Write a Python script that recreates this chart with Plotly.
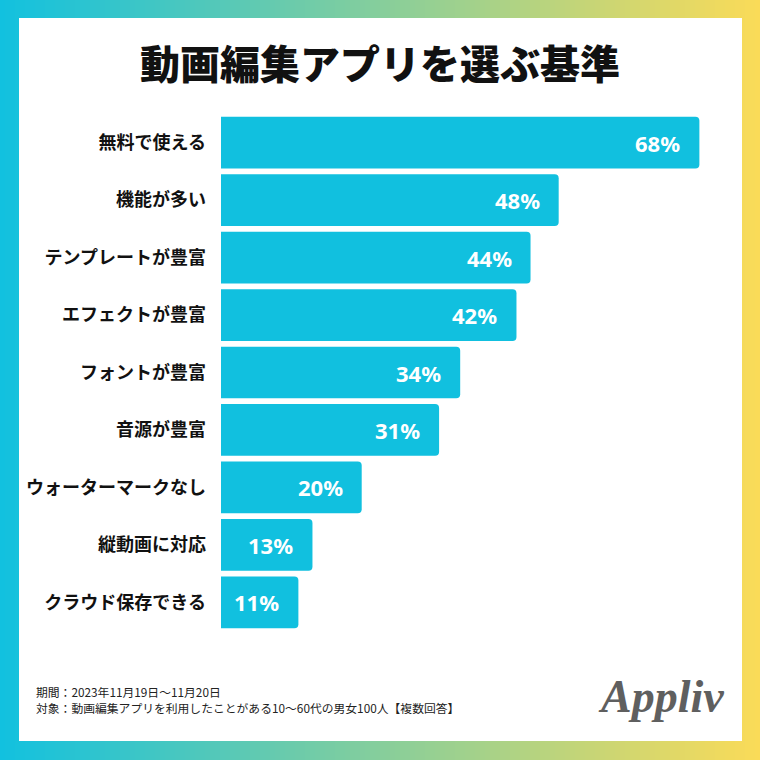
import plotly.graph_objects as go

# ---- data ----
categories = ["無料で使える", "機能が多い", "テンプレートが豊富", "エフェクトが豊富",
              "フォントが豊富", "音源が豊富", "ウォーターマークなし", "縦動画に対応",
              "クラウド保存できる"]
values = [68, 48, 44, 42, 34, 31, 20, 13, 11]
value_labels = [f"{v}%" for v in values]

title_text = "動画編集アプリを選ぶ基準"
footer_lines = ["期間：2023年11月19日〜11月20日",
                "対象：動画編集アプリを利用したことがある10〜60代の男女100人【複数回答】"]
brand = "Appliv"

W = H = 760
BAR_COLOR = "#11C0DF"
JP = "Noto Sans CJK JP"

fig = go.Figure()
fig.add_trace(go.Bar(
    x=values, y=categories, orientation="h",
    marker=dict(color=BAR_COLOR, line=dict(width=0)),
    hoverinfo="skip",
))

# gradient border (decoration)
shapes = []
c0 = (18, 193, 223)
c1 = (250, 219, 88)
n = 152
for i in range(n):
    t = i / (n - 1)
    col = tuple(round(c0[k] + (c1[k] - c0[k]) * t) for k in range(3))
    shapes.append(dict(type="rect", xref="paper", yref="paper",
                       x0=i / n, x1=(i + 1) / n + 0.001, y0=0, y1=1,
                       fillcolor="rgb(%d,%d,%d)" % col, line=dict(width=0),
                       layer="below"))
shapes.append(dict(type="rect", xref="paper", yref="paper",
                   x0=19 / W, x1=742 / W, y0=1 - 741 / H, y1=1 - 18 / H,
                   fillcolor="white", line=dict(width=0), layer="below"))

annotations = []
for c, v, lab in zip(categories, values, value_labels):
    annotations.append(dict(x=v, y=c, xref="x", yref="y", text=lab,
                            showarrow=False, xanchor="right", xshift=-17,
                            font=dict(family="Noto Sans", size=22, color="white",
                                      weight="bold")))

annotations.append(dict(x=0.5, y=1 - 62 / H, xref="paper", yref="paper",
                        text=title_text, showarrow=False, xanchor="center",
                        yanchor="middle",
                        font=dict(family=JP, size=40, color="#111111", weight=900)))
for i, line in enumerate(footer_lines):
    annotations.append(dict(x=34 / W, y=1 - (691 + 16 * i) / H, xref="paper",
                            yref="paper", text=line, showarrow=False,
                            xanchor="left", yanchor="middle",
                            font=dict(family=JP, size=11.8, color="#222222")))
annotations.append(dict(x=661 / W, y=1 - 696 / H, xref="paper", yref="paper",
                        text="<i><b>" + brand + "</b></i>", showarrow=False,
                        xanchor="center", yanchor="middle",
                        font=dict(family="Liberation Serif", size=46,
                                  color="#5f5f5f")))

fig.update_layout(
    width=W, height=H,
    margin=dict(l=0, r=0, t=0, b=0),
    paper_bgcolor="white", plot_bgcolor="rgba(0,0,0,0)",
    showlegend=False,
    bargap=0.1,
    barcornerradius=4,
    shapes=shapes,
    annotations=annotations,
    xaxis=dict(domain=[221 / W, 1], range=[0, 539 / 7.035], visible=False,
               fixedrange=True),
    yaxis=dict(domain=[1 - 631 / H, 1 - 114 / H], autorange="reversed",
               showgrid=False, zeroline=False, showline=False, ticks="",
               ticklabelstandoff=14,
               tickfont=dict(family=JP, size=18, color="#111111", weight="bold")),
)

fig.write_html("out.html")
